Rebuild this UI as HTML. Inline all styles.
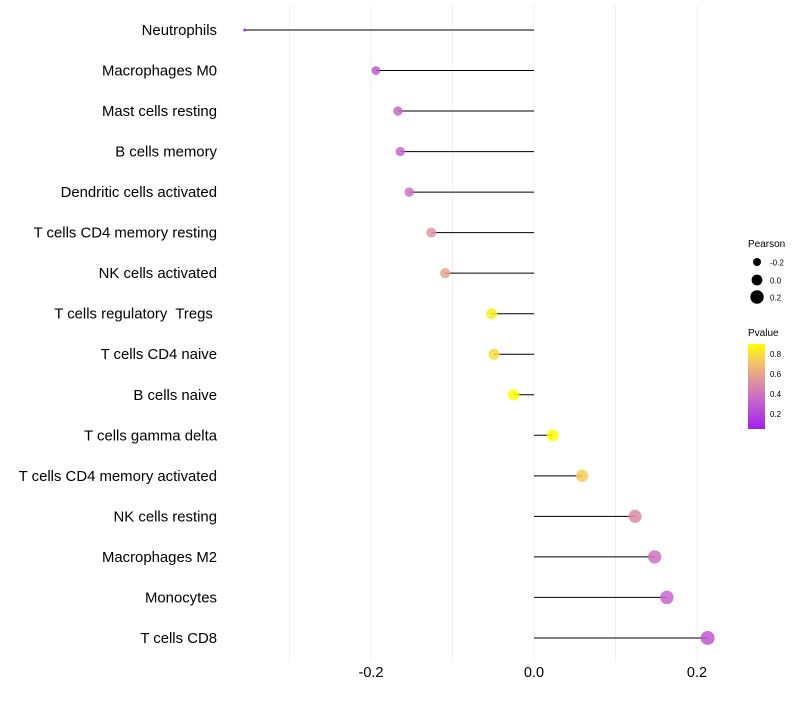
<!DOCTYPE html>
<html><head><meta charset="utf-8"><style>
body{margin:0;background:#fff;font-family:"Liberation Sans",sans-serif}
</style></head><body>
<svg id="chart" width="800" height="700">
<defs><linearGradient id="pg" x1="0" y1="1" x2="0" y2="0">
<stop offset="0" stop-color="#a020f0"/><stop offset="0.35" stop-color="#c868c8"/><stop offset="0.6" stop-color="#e49a98"/><stop offset="0.8" stop-color="#f4c860"/><stop offset="1" stop-color="#ffff00"/></linearGradient></defs>
<g id="grid"></g><g id="marks"></g><g id="ylabels"></g><g id="xlabels"></g>
<g>
<text x="748" y="247" font-size="10">Pearson</text>
<circle cx="757" cy="262" r="4" fill="#000"/>
<text x="770" y="265.5" font-size="8">-0.2</text>
<circle cx="757" cy="280" r="5.4" fill="#000"/>
<text x="770" y="283.5" font-size="8">0.0</text>
<circle cx="757" cy="297" r="6.7" fill="#000"/>
<text x="770" y="300.5" font-size="8">0.2</text>
<text x="748" y="336" font-size="10">Pvalue</text>
<rect x="748" y="344" width="17" height="85" fill="url(#pg)"/>
<text x="770" y="357" font-size="8">0.8</text>
<text x="770" y="377" font-size="8">0.6</text>
<text x="770" y="397" font-size="8">0.4</text>
<text x="770" y="417" font-size="8">0.2</text>
</g>
</svg>
<script>
const categories=["Neutrophils","Macrophages M0","Mast cells resting","B cells memory","Dendritic cells activated","T cells CD4 memory resting","NK cells activated","T cells regulatory  Tregs ","T cells CD4 naive","B cells naive","T cells gamma delta","T cells CD4 memory activated","NK cells resting","Macrophages M2","Monocytes","T cells CD8"];
const pearson=[-0.355,-0.194,-0.167,-0.164,-0.153,-0.126,-0.109,-0.052,-0.049,-0.025,0.023,0.059,0.124,0.148,0.163,0.213];
const pvalue=[0.08,0.3,0.35,0.35,0.4,0.55,0.6,0.85,0.8,0.93,0.93,0.75,0.5,0.4,0.35,0.28];
const xTicks=[-0.2,0.0,0.2];
const xTickLabels=["-0.2","0.0","0.2"];
const gridVals=[-0.3,-0.2,-0.1,0,0.1,0.2];
const NS="http://www.w3.org/2000/svg";
const xs=v=>534+v*815;
const ys=i=>30+i*40.53;
const rs=v=>1.5+5.5*Math.sqrt(Math.max(0,(v+0.355)/0.568));
function col(p){
 const t=Math.max(0,Math.min(1,(p-0.06)/0.84));
 const st=[[0,[160,32,240]],[0.35,[200,104,200]],[0.6,[228,154,152]],[0.8,[244,200,96]],[1,[255,255,0]]];
 for(let k=1;k<st.length;k++){if(t<=st[k][0]){const a=st[k-1],b=st[k],f=(t-a[0])/(b[0]-a[0]);
 return 'rgb('+a[1].map((c,j)=>Math.round(c+(b[1][j]-c)*f)).join(',')+')';}}
 return 'rgb(255,255,0)';}
function mk(tag,at,parent){const e=document.createElementNS(NS,tag);for(const k in at)e.setAttribute(k,at[k]);document.getElementById(parent).appendChild(e);return e;}
gridVals.forEach(v=>{const l=mk('line',{x1:xs(v),x2:xs(v),y1:5,y2:662,stroke:'#f0f0f0','stroke-width':1},'grid');

});
xTicks.forEach((v,i)=>{const t=mk('text',{x:xs(v),y:677,'font-size':14.5,'text-anchor':'middle',fill:'#000'},'xlabels');t.textContent=xTickLabels[i];

});
categories.forEach((c,i)=>{
 const t=mk('text',{x:217,y:ys(i)+5,'font-size':14.9,'text-anchor':'end',fill:'#000','xml:space':'preserve'},'ylabels');t.textContent=c;t.style.whiteSpace='pre';
 
 
 const l=mk('line',{x1:xs(pearson[i]),x2:xs(0),y1:ys(i),y2:ys(i),stroke:'#000','stroke-width':1},'marks');
 
 
 const d=mk('circle',{cx:xs(pearson[i]),cy:ys(i),r:rs(pearson[i]),fill:col(pvalue[i]),'fill-opacity':0.85},'marks');
 
 
});
</script>
</body></html>
